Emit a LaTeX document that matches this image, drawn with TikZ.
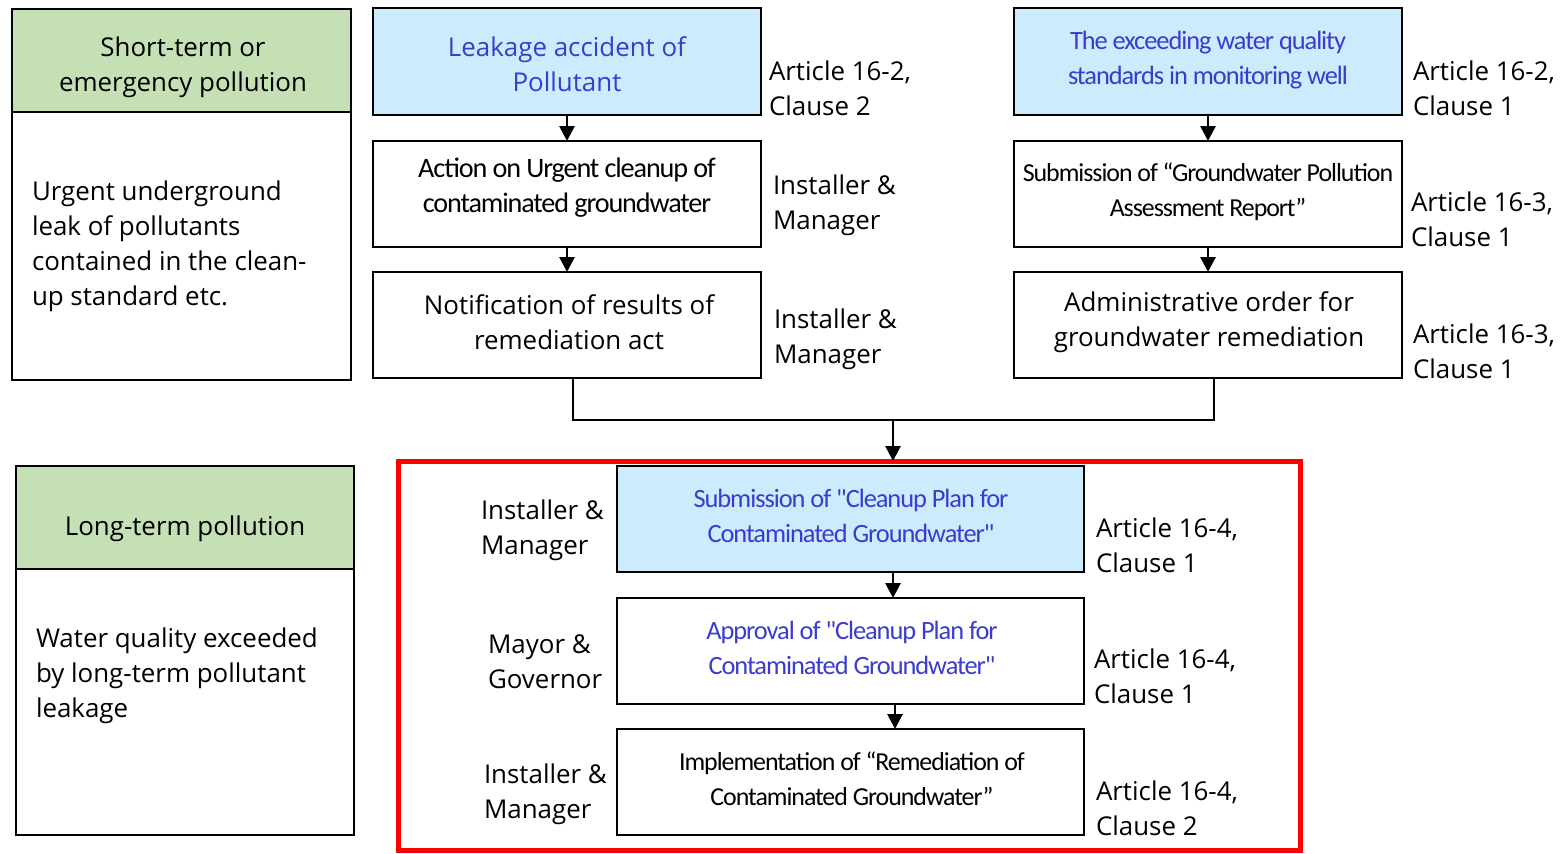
\documentclass[tikz,border=0pt]{standalone}
\usepackage{fontspec}
\setmainfont{Open Sans}
\newfontfamily\cond[LetterSpace=-4]{Carlito}
\usetikzlibrary{arrows.meta}
\definecolor{hdgreen}{HTML}{C5E0B4}
\definecolor{boxblue}{HTML}{CCEBFC}
\definecolor{txtblue}{HTML}{3B3BCF}
\definecolor{redframe}{HTML}{FF0000}
\begin{document}
\begin{tikzpicture}[x=1bp,y=-1bp,
  every node/.style={inner sep=0pt, outer sep=0pt},
  basefont/.style={font=\fontsize{26}{35}\selectfont},
  condfont/.style={font=\cond\fontsize{26.5}{35}\selectfont},
  fbox/.style={draw=black, line width=2bp, minimum width=388bp, minimum height=106bp},
  ibox/.style={draw=black, line width=2bp, minimum width=467bp, minimum height=106bp},
  bluebox/.style={fill=boxblue},
  ctext/.style={align=center},
  hdr/.style={draw=black, line width=2bp, fill=hdgreen, minimum height=103bp},
  body/.style={draw=black, line width=2bp},
  lbl/.style={anchor=west, align=left, basefont},
  arr/.style={draw=black, line width=2.8bp, -{Triangle[length=15bp,width=15bp]}},
  cline/.style={draw=black, line width=2.8bp}
]
\useasboundingbox (0,0) rectangle (1562,853);
\fill[white] (0,0) rectangle (1562,853);

% left description boxes
\node[body, minimum width=339bp, minimum height=371bp] (stbox) at (181.5,194.5) {};
\node[hdr, minimum width=339bp] (sthdr) at (181.5,60.5) {};
\node[ctext, basefont] (sthdrt) at (183,67) {Short-term or\\emergency pollution};
\node[lbl] (sttext) at (32,246) {Urgent underground\\leak of pollutants\\contained in the clean-\\up standard etc.};

\node[body, minimum width=338bp, minimum height=369bp] (ltbox) at (185,650.5) {};
\node[hdr, minimum width=338bp] (lthdr) at (185,517.5) {};
\node[ctext, basefont] (lthdrt) at (185,529) {Long-term pollution};
\node[lbl] (lttext) at (36,675.5) {Water quality exceeded\\by long-term pollutant\\leakage};

% middle column
\node[fbox, bluebox] (leak) at (567,61.5) {};
\node[ctext, basefont, text=txtblue] (leakt) at (567,64.5) {Leakage accident of\\Pollutant};
\node[fbox] (action) at (567,194) {};
\node[ctext, font=\cond\fontsize{28.3}{35}\selectfont] (actiont) at (567,187.5) {Action on Urgent cleanup of\\contaminated groundwater};
\node[fbox] (notif) at (567,325) {};
\node[ctext, basefont] (notift) at (569,322.5) {Notification of results of\\remediation act};
\node[lbl] (l1) at (769,88) {Article 16-2,\\Clause 2};
\node[lbl] (l2) at (773,205.5) {Installer \&\\Manager};
\node[lbl] (l3) at (774,339.5) {Installer \&\\Manager};

% right column
\node[fbox, bluebox] (exceed) at (1208,61.5) {};
\node[ctext, condfont, text=txtblue] (exceedt) at (1208,60) {The exceeding water quality\\standards in monitoring well};
\node[fbox] (report) at (1208,194) {};
\node[ctext, font=\cond\fontsize{26}{35}\selectfont] (reportt) at (1208,192) {Submission of “Groundwater Pollution\\Assessment Report”};
\node[fbox] (admin) at (1208,325) {};
\node[ctext, basefont] (admint) at (1209,322.5) {Administrative order for\\groundwater remediation};
\node[lbl] (r1) at (1413,88) {Article 16-2,\\Clause 1};
\node[lbl] (r2) at (1411,219) {Article 16-3,\\Clause 1};
\node[lbl] (r3) at (1413,351.5) {Article 16-3,\\Clause 1};

\draw[arr] (leak.south) -- (action.north);
\draw[arr] (action.south) -- (notif.north);
\draw[arr] (exceed.south) -- (report.north);
\draw[arr] (report.south) -- (admin.north);

% red frame
\node[draw=redframe, line width=5bp, minimum width=902bp, minimum height=389bp] (frame) at (849,655.5) {};

\coordinate (mL) at (573,420);
\coordinate (mR) at (1214,420);
\coordinate (mM) at (893,420);
\draw[cline] (notif.south -| mL) -- (mL) -- (mR) -- (admin.south -| mR);
\draw[arr] (mM) -- (frame.north -| mM);

% inner boxes
\node[ibox, bluebox] (plan) at (850.5,519) {};
\node[ctext, condfont, text=txtblue] (plant) at (851,515.5) {Submission of "Cleanup Plan for\\Contaminated Groundwater"};
\node[ibox] (appr) at (850.5,651) {};
\node[ctext, condfont, text=txtblue] (apprt) at (852,647.5) {Approval of "Cleanup Plan for\\Contaminated Groundwater"};
\node[ibox] (impl) at (850.5,782) {};
\node[ctext, font=\cond\fontsize{26}{35}\selectfont] (implt) at (852,778.5) {Implementation of “Remediation of\\Contaminated Groundwater”};

\draw[arr] (plan.south -| mM) -- (appr.north -| mM);
\draw[arr] (appr.south -| mM) ++(2,0) coordinate (a3) -- (impl.north -| a3);

\node[lbl] (il1) at (481,530) {Installer \&\\Manager};
\node[lbl] (il2) at (488,662) {Mayor \&\\Governor};
\node[lbl] (il3) at (484,794) {Installer \&\\Manager};
\node[lbl] (ir1) at (1096,545) {Article 16-4,\\Clause 1};
\node[lbl] (ir2) at (1094,676) {Article 16-4,\\Clause 1};
\node[lbl] (ir3) at (1096,808) {Article 16-4,\\Clause 2};
\end{tikzpicture}
\end{document}
